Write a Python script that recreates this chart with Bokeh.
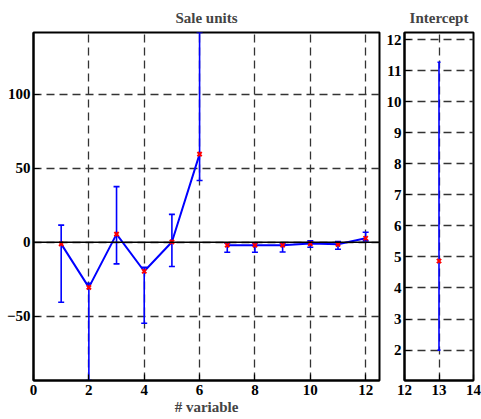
from bokeh.plotting import figure
from bokeh.layouts import row
from bokeh.models import ColumnDataSource, Whisker, TeeHead, Span, FixedTicker, Range1d
from bokeh.embed import file_html
from bokeh.resources import INLINE

# Data: coefficients with (asymmetric) confidence bounds
x_a = [1, 2, 3, 4, 5, 6]
val_a = [-1.1, -30.5, 5.5, -19.6, 0.2, 59.5]
lo_a = [-40.5, -93.4, -14.6, -54.7, -16.4, 41.7]
hi_a = [11.6, -27.7, 37.6, -17.0, 18.8, 141.7]

x_b = [7, 8, 9, 10, 11, 12]
val_b = [-2.0, -2.0, -2.0, -0.9, -1.4, 2.7]
lo_b = [-6.8, -6.8, -6.6, -3.4, -4.7, 0.9]
hi_b = [-0.6, -0.5, -0.6, 0.9, 0.4, 6.8]

x_int = [13]
val_int = [4.87]
lo_int = [2.0]
hi_int = [11.27]

left_xticks = [0, 2, 4, 6, 8, 10, 12]
left_yticks = [-50, 0, 50, 100]
right_xticks = [12, 13, 14]
right_yticks = [2, 3, 4, 5, 6, 7, 8, 9, 10, 11, 12]

FONT = "Liberation Serif"
BLUE = "#0000ff"
GRID = "#333333"
FS = "15px"


def style(p, xticks, yticks):
    p.outline_line_color = "black"
    p.outline_line_width = 2
    for ax in (p.xaxis[0], p.yaxis[0]):
        ax.major_label_text_font = FONT
        ax.major_label_text_font_style = "bold"
        ax.major_label_text_font_size = FS
        ax.major_label_text_color = "black"
        ax.axis_line_color = "black"
        ax.axis_line_width = 2
        ax.major_tick_in = 6
        ax.major_tick_out = 0
        ax.major_tick_line_color = "black"
        ax.major_tick_line_width = 1.2
        ax.minor_tick_line_color = None
        ax.major_label_standoff = 3
    p.xaxis[0].major_label_standoff = 4
    p.xaxis[0].ticker = FixedTicker(ticks=xticks)
    p.yaxis[0].ticker = FixedTicker(ticks=yticks)
    for g in (p.xgrid[0], p.ygrid[0]):
        g.grid_line_color = GRID
        g.grid_line_dash = "8 5"
        g.grid_line_width = 1.3
    p.title.text_font = FONT
    p.title.text_font_style = "bold"
    p.title.text_font_size = FS
    p.title.align = "center"
    p.title.standoff = 14
    p.background_fill_color = "white"
    p.border_fill_color = "white"


def errorbars(p, xs, vals, lo, hi, head):
    src = ColumnDataSource(dict(x=xs, v=vals, lo=lo, hi=hi))
    w = Whisker(base="x", lower="lo", upper="hi", source=src,
                line_color=BLUE, line_width=1.6,
                lower_head=TeeHead(size=head, line_color=BLUE, line_width=1.6),
                upper_head=TeeHead(size=head, line_color=BLUE, line_width=1.6))
    p.add_layout(w)
    return src


left = figure(width=381, height=419, output_backend="svg", toolbar_location=None,
              x_range=Range1d(0, 12.5), y_range=Range1d(-93.4, 141.7),
              title="Sale units", min_border_left=33, min_border_right=2,
              min_border_top=32, min_border_bottom=39)
style(left, left_xticks, left_yticks)
left.xaxis.axis_label = "# variable"
left.xaxis.axis_label_text_font = FONT
left.xaxis.axis_label_text_font_style = "bold"
left.xaxis.axis_label_text_font_size = FS
left.xaxis.axis_label_standoff = 1

left.add_layout(Span(location=0, dimension="width", line_color="black", line_width=1.6))

sa = errorbars(left, x_a, val_a, lo_a, hi_a, 6)
sb = errorbars(left, x_b, val_b, lo_b, hi_b, 6)
left.line("x", "v", source=sa, line_color=BLUE, line_width=2)
left.line("x", "v", source=sb, line_color=BLUE, line_width=2)
left.scatter("x", "v", source=sa, marker="x", size=6, line_color="red", line_width=2)
left.scatter("x", "v", source=sb, marker="x", size=6, line_color="red", line_width=2)

right = figure(width=100, height=419, output_backend="svg", toolbar_location=None,
               x_range=Range1d(12, 14), y_range=Range1d(1.02, 12.23),
               title="Intercept", min_border_left=23, min_border_right=8,
               min_border_top=32, min_border_bottom=39)
style(right, right_xticks, right_yticks)
right.yaxis.major_label_standoff = 3
si = errorbars(right, x_int, val_int, lo_int, hi_int, 3)
right.scatter("x", "v", source=si, marker="x", size=6, line_color="red", line_width=2)

layout = row(left, right)
open("out.html", "w").write(file_html(layout, INLINE))
